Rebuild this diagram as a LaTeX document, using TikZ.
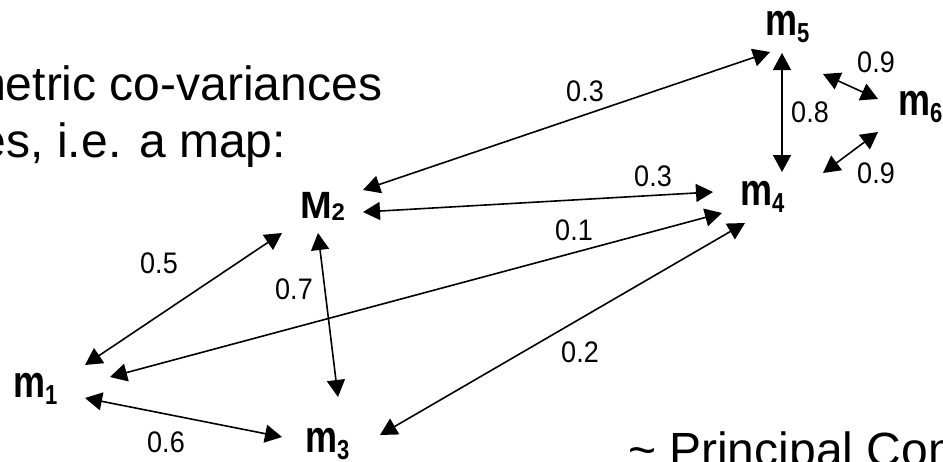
\documentclass[tikz,border=0pt]{standalone}
\usepackage{fontspec}
\setmainfont{Liberation Sans}
\usetikzlibrary{arrows.meta,calc}
\newcommand{\mlab}[2]{\scalebox{1}[1.25]{\fontsize{36}{36}\selectfont\bfseries #1\raisebox{-6pt}{\fontsize{22}{22}\selectfont #2}}}
\newcommand{\wl}[1]{\scalebox{1}[1.1]{#1}}
\begin{document}
\begin{tikzpicture}[x=1pt,y=-1pt,
  vtx/.style={inner sep=0pt, outer sep=0pt, anchor=base west},
  wlab/.style={inner sep=0pt, outer sep=0pt, font=\fontsize{27}{27}\selectfont},
  txt/.style={inner sep=0pt, outer sep=0pt, anchor=base west, font=\fontsize{48}{48}\selectfont},
  link/.style={line width=1.6pt, {Triangle[length=17pt,width=18pt]}-{Triangle[length=17pt,width=18pt]}}]
\useasboundingbox (0,0) rectangle (943,461);
\clip (0,0) rectangle (943,461);
% slide text
\node[txt] (t1) at (-34,100) {metric co-variances};
\node[txt] (t2) at (-20,157) {es, i.e. a map:};
\node[txt] (t3) at (628,466) {\textasciitilde{} Principal Com};
% vertices
\node[vtx] (m5) at (765,35) {\mlab{m}{5}};
\node[vtx] (m6) at (898,115) {\mlab{m}{6}};
\node[vtx] (m4) at (740,205) {\mlab{m}{4}};
\node[vtx] (M2) at (300,218) {{\fontsize{38}{38}\selectfont\bfseries M\raisebox{-2pt}{\fontsize{24}{24}\selectfont 2}}};
\node[vtx] (m1) at (13,397) {\mlab{m}{1}};
\node[vtx] (m3) at (305,452) {\mlab{m}{3}};
% connectors
\draw[link] ($(m5.base west)+(17,18)$) -- ($(m4.base west)+(42,-33)$);
\draw[link] ($(m5.base west)+(5,17)$) -- ($(M2.base west)+(63,-28)$);
\draw[link] ($(m5.base west)+(58,39)$) -- ($(m6.base west)+(-20,-16)$);
\draw[link] ($(m4.base west)+(83,-32)$) -- ($(m6.base west)+(-20,17)$);
\draw[link] ($(M2.base west)+(63,-6)$) -- ($(m4.base west)+(-27,-13)$);
\draw[link] ($(m1.base west)+(97,-20)$) -- ($(m4.base west)+(-18,8)$);
\draw[link] ($(m3.base west)+(75,-17)$) -- ($(m4.base west)+(5,18)$);
\draw[link] ($(m1.base west)+(72,-32)$) -- ($(M2.base west)+(-18,15)$);
\draw[link] ($(M2.base west)+(18,15)$) -- ($(m3.base west)+(33,-55)$);
\draw[link] ($(m1.base west)+(72,1)$) -- ($(m3.base west)+(-23,-15)$);
% weights
\node[wlab] (w08) at (810,112) {\wl{0.8}};
\node[wlab] (w09a) at (876,62) {\wl{0.9}};
\node[wlab] (w09b) at (876,173) {\wl{0.9}};
\node[wlab] (w03a) at (585,91) {\wl{0.3}};
\node[wlab] (w03b) at (653,176) {\wl{0.3}};
\node[wlab] (w01) at (574,230) {\wl{0.1}};
\node[wlab] (w05) at (159,263) {\wl{0.5}};
\node[wlab] (w07) at (294,289) {\wl{0.7}};
\node[wlab] (w02) at (580,352) {\wl{0.2}};
\node[wlab] (w06) at (166,442) {\wl{0.6}};
\end{tikzpicture}
\end{document}
